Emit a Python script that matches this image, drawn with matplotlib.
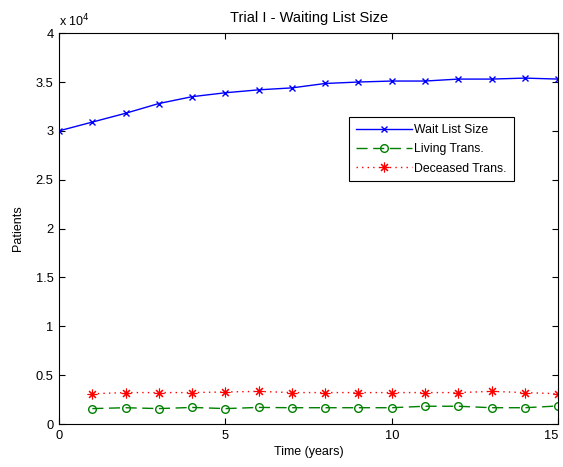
import matplotlib
matplotlib.use("Agg")
import matplotlib.pyplot as plt
from matplotlib.ticker import FuncFormatter, FixedLocator, MultipleLocator

plt.rcParams['font.family'] = ['Liberation Sans', 'DejaVu Sans']

years = list(range(0, 16))
wait_list = [30000, 30900, 31800, 32800, 33500, 33900, 34200, 34400, 34850,
             35000, 35100, 35100, 35300, 35300, 35400, 35300]
living_years = list(range(1, 16))
living = [1580, 1670, 1580, 1700, 1580, 1700, 1670, 1670, 1670, 1670,
          1820, 1820, 1670, 1670, 1850]
deceased_years = list(range(1, 16))
deceased = [3100, 3220, 3220, 3220, 3280, 3340, 3220, 3220, 3220, 3220,
            3220, 3220, 3340, 3220, 3100]
x_ticks = [0, 5, 10, 15]

fig = plt.figure(figsize=(5.63, 4.67), dpi=100)
ax = fig.add_axes([0.1048, 0.092, 0.8866, 0.837])

ax.plot(years, wait_list, color='blue', marker='x', markersize=4, lw=1,
        label='Wait List Size')
ax.plot(living_years, living, color='green', marker='o', markersize=5.5,
        markerfacecolor='none', lw=1, linestyle=(0, (8, 4)),
        label='Living Trans.')
ax.plot(deceased_years, deceased, color='red', marker=(8, 2, 0), markersize=7,
        markeredgewidth=0.8, lw=1, linestyle=(0, (1, 3)),
        label='Deceased Trans.')

ax.set_xlim(0, 15)
ax.set_ylim(0, 40000)
ax.xaxis.set_major_locator(FixedLocator(x_ticks))
ax.yaxis.set_major_locator(MultipleLocator(5000))
ax.yaxis.set_major_formatter(FuncFormatter(lambda v, p: '%g' % (v / 1e4)))
ax.tick_params(direction='in', top=True, right=True, labelsize=9.3,
               length=4, width=0.8, pad=4)
for s in ax.spines.values():
    s.set_linewidth(0.8)

ticks = ax.xaxis.get_major_ticks()
ticks[-1].label1.set_horizontalalignment('right')

ax.text(0.0, 1.01, r'x 10$^4$', transform=ax.transAxes, fontsize=9,
        ha='left', va='bottom')

ax.set_title('Trial I - Waiting List Size', fontsize=10.5, pad=8)
ax.set_xlabel('Time (years)', fontsize=9, labelpad=3)
ax.set_ylabel('Patients', fontsize=9, labelpad=8)

leg = ax.legend(loc='upper left', bbox_to_anchor=(0.581, 0.785), fontsize=8.8,
                frameon=True, fancybox=False, framealpha=1, edgecolor='black',
                borderaxespad=0, handlelength=4.6, handletextpad=0.2,
                labelspacing=0.6, borderpad=0.55)
leg.get_frame().set_linewidth(0.8)

fig.savefig('out.png', dpi=100)
